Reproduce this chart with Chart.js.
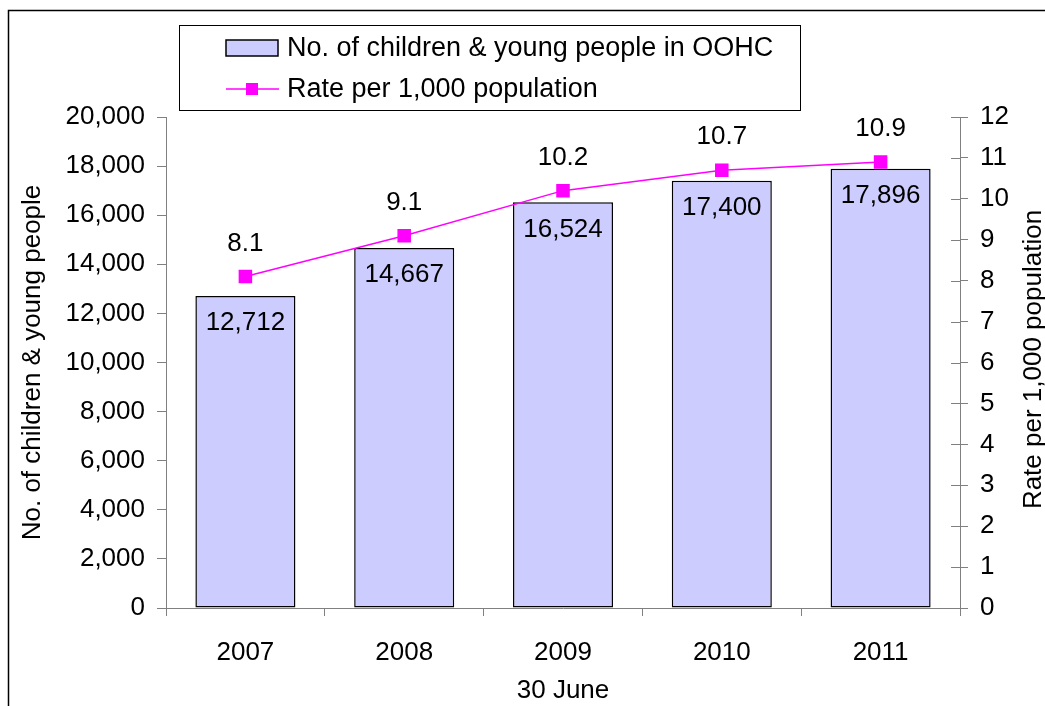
<!DOCTYPE html>
<html>
<head>
<meta charset="utf-8">
<script src="https://cdn.jsdelivr.net/npm/chart.js@4/dist/chart.umd.min.js"></script>
<style>
  html, body { margin: 0; padding: 0; background: #fff; }
  #wrap { width: 1045px; height: 706px; position: relative; }
</style>
</head>
<body>
<div id="wrap"><canvas id="c" width="1045" height="706"></canvas></div>
<script>
// Children and young people in out-of-home care, at 30 June each year
const years = ['2007', '2008', '2009', '2010', '2011'];
const childrenInCare = [12712, 14667, 16524, 17400, 17896];
const ratePer1000 = [8.1, 9.1, 10.2, 10.7, 10.9];

// Axis ranges and tick steps
const countAxis = { min: 0, max: 20000, step: 2000 };
const rateAxis = { min: 0, max: 12, step: 1 };

const labels = {
  bars: 'No. of children & young people in OOHC',
  line: 'Rate per 1,000 population',
  countTitle: 'No. of children & young people',
  rateTitle: 'Rate per 1,000 population',
  xTitle: '30 June'
};

const FONT = '"Liberation Sans", Arial, Helvetica, sans-serif';
const FS = 26;
const AXIS_GREY = '#808080';
const BAR_FILL = '#CCCCFF';
const LINE_COL = '#FF00FF';

const fmt = new Intl.NumberFormat('en-US');

const decor = {
  id: 'decor',
  afterDraw(chart) {
    const { ctx, chartArea: a, scales } = chart;
    ctx.save();

    // outer frame
    ctx.strokeStyle = '#000';
    ctx.lineWidth = 1.5;
    ctx.strokeRect(8.5, 10.5, 1200, 900);

    // inner half of the crossing ticks on the rate axis
    const yr = scales.yRate;
    ctx.strokeStyle = AXIS_GREY;
    ctx.lineWidth = 1;
    yr.ticks.forEach(t => {
      const y = Math.round(yr.getPixelForValue(t.value)) + 0.5;
      ctx.beginPath();
      ctx.moveTo(a.right - 9, y);
      ctx.lineTo(a.right, y);
      ctx.stroke();
    });

    // value labels
    ctx.fillStyle = '#000';
    ctx.font = FS + 'px ' + FONT;
    ctx.textAlign = 'center';
    ctx.textBaseline = 'middle';
    chart.getDatasetMeta(1).data.forEach((bar, i) => {
      ctx.fillText(fmt.format(childrenInCare[i]), bar.x, bar.y + 27);
    });
    chart.getDatasetMeta(0).data.forEach((pt, i) => {
      ctx.fillText(ratePer1000[i].toFixed(1), pt.x, pt.y - 33);
    });

    // right axis title, reading bottom to top
    ctx.save();
    ctx.translate(1034, (a.top + a.bottom) / 2 - 3);
    ctx.rotate(-Math.PI / 2);
    ctx.fillText(labels.rateTitle, 0, 0);
    ctx.restore();

    // legend box
    ctx.strokeStyle = '#000';
    ctx.lineWidth = 1;
    ctx.strokeRect(179.5, 25.5, 621, 85);
    // bar swatch
    ctx.fillStyle = BAR_FILL;
    ctx.fillRect(226, 40, 52, 16);
    ctx.lineWidth = 1.5;
    ctx.strokeRect(226, 40, 52, 16);
    // line swatch
    ctx.strokeStyle = LINE_COL;
    ctx.lineWidth = 1.5;
    ctx.beginPath();
    ctx.moveTo(226, 89);
    ctx.lineTo(279, 89);
    ctx.stroke();
    ctx.fillStyle = LINE_COL;
    ctx.fillRect(246, 83, 12, 12);
    // legend text
    ctx.fillStyle = '#000';
    ctx.textAlign = 'left';
    ctx.font = '27px ' + FONT;
    ctx.fillText(labels.bars, 287, 49);
    ctx.fillText(labels.line, 287, 90);

    ctx.restore();
  }
};

new Chart(document.getElementById('c'), {
  data: {
    labels: years,
    datasets: [
      {
        type: 'line',
        label: labels.line,
        data: ratePer1000,
        yAxisID: 'yRate',
        borderColor: LINE_COL,
        backgroundColor: LINE_COL,
        borderWidth: 1.5,
        pointStyle: 'rect',
        pointRadius: 8.5,
        pointHoverRadius: 8.5,
        tension: 0,
        order: 0
      },
      {
        type: 'bar',
        label: labels.bars,
        data: childrenInCare,
        yAxisID: 'yCount',
        backgroundColor: BAR_FILL,
        borderColor: '#000',
        borderWidth: 1.5,
        borderSkipped: false,
        barPercentage: 0.63,
        categoryPercentage: 1,
        order: 1
      }
    ]
  },
  options: {
    responsive: false,
    animation: false,
    devicePixelRatio: 1,
    layout: { padding: { top: 117, left: 0, right: 0, bottom: 0 } },
    plugins: { legend: { display: false }, tooltip: { enabled: false } },
    scales: {
      x: {
        grid: { offset: true, drawOnChartArea: false, color: AXIS_GREY, tickLength: 8 },
        border: { color: AXIS_GREY, width: 1 },
        ticks: { color: '#000', font: { family: FONT, size: FS }, padding: 21, maxRotation: 0 },
        title: { display: true, text: labels.xTitle, color: '#000', font: { family: FONT, size: FS }, padding: { top: 0, bottom: 0 } },
        afterFit(s) { s.height = 98; }
      },
      yCount: {
        position: 'left',
        min: countAxis.min,
        max: countAxis.max,
        grid: { drawOnChartArea: false, color: AXIS_GREY, tickLength: 9 },
        border: { color: AXIS_GREY, width: 1 },
        ticks: {
          stepSize: countAxis.step,
          color: '#000',
          font: { family: FONT, size: FS },
          padding: 12,
          callback: v => fmt.format(v)
        },
        title: { display: true, text: labels.countTitle, color: '#000', font: { family: FONT, size: FS }, padding: { top: 17, bottom: 0 } },
        afterFit(s) { s.width = 166; }
      },
      yRate: {
        position: 'right',
        min: rateAxis.min,
        max: rateAxis.max,
        grid: { drawOnChartArea: false, color: AXIS_GREY, tickLength: 8 },
        border: { color: AXIS_GREY, width: 1 },
        ticks: { stepSize: rateAxis.step, color: '#000', font: { family: FONT, size: FS }, padding: 12 },
        afterFit(s) { s.width = 85; }
      }
    }
  },
  plugins: [decor]
});
</script>
</body>
</html>
